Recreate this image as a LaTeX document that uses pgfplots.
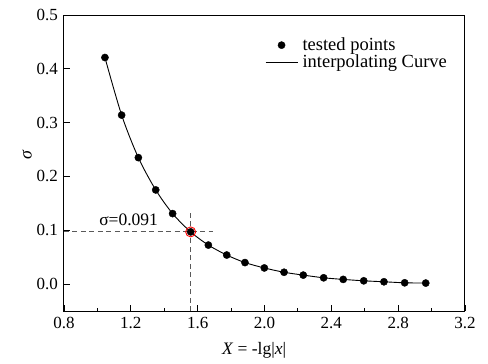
\documentclass[border=0pt]{standalone}
\usepackage{pgfplots}
\pgfplotsset{compat=1.18}
\usepackage{pgfplotstable}
\usepackage{fontspec}
\setmainfont{Liberation Serif}
\pgfplotstableread{
x y
1.045 0.421
1.145 0.314
1.245 0.235
1.349 0.175
1.450 0.131
1.558 0.097
1.664 0.0725
1.774 0.054
1.883 0.040
1.999 0.030
2.117 0.022
2.232 0.0167
2.354 0.0117
2.471 0.0087
2.594 0.0061
2.715 0.0043
2.839 0.0024
2.965 0.0019
}\sigmadata
\begin{document}
\fontsize{17.5}{20}\selectfont
\begin{tikzpicture}
\begin{axis}[
  name=ax,
  scale only axis, width=401pt, height=296pt,
  xmin=0.8, xmax=3.2, ymin=-0.05, ymax=0.5,
  xtick={0.8,1.2,1.6,2.0,2.4,2.8,3.2},
  minor xtick={1.0,1.4,1.8,2.2,2.6,3.0},
  ytick={0,0.1,0.2,0.3,0.4,0.5},
  tick pos=left, tick align=inside,
  major tick length=6pt, minor tick length=3.5pt,
  every tick/.style={black, line width=0.9pt},
  axis line style={line width=1pt},
  /pgf/number format/assume math mode=true,
  xticklabel style={/pgf/number format/.cd, fixed, fixed zerofill, precision=1},
  yticklabel style={/pgf/number format/.cd, fixed, fixed zerofill, precision=1},
  every tick label/.append style={font=\fontsize{17}{20}\selectfont},
  xlabel={\textit{X} = -lg|\textit{x}|},
  xlabel style={at={(axis description cs:0.474,-0.132)}, anchor=center, font=\fontsize{17.5}{20}\selectfont},
  ylabel={\itshape σ},
  ylabel style={at={(axis description cs:-0.092,0.527)}, anchor=center, font=\fontsize{18}{20}\selectfont},
  legend cell align=left,
  legend style={draw=none, fill=none, at={(axis description cs:0.501,0.922)}, anchor=north west,
    inner sep=0pt, row sep=0pt, column sep=4.5pt, font=\fontsize{18.5}{20}\selectfont,
    nodes={inner sep=0pt, text height=12.5pt, text depth=4.2pt}},
]
\addplot[only marks, mark=*, mark size=3.6pt, black,
  legend image code/.code={\fill[black] (16pt,1.5pt) circle (3.6pt);}] table[x=x,y=y] {\sigmadata};
\addlegendentry{tested points}
\addplot[smooth, black, line width=0.9pt, mark=none,
  legend image code/.code={\draw[black, line width=0.9pt] (0pt,1.2pt) -- (32pt,1.2pt);}] table[x=x,y=y] {\sigmadata};
\addlegendentry{interpolating Curve}
\addplot[forget plot, only marks, mark=o, mark size=5pt, red, line width=0.9pt] coordinates {(1.558,0.097)};
\addplot[forget plot, gray!70!black, line width=0.9pt, dash pattern=on 5pt off 3.5pt] coordinates {(0.8,0.097) (1.69,0.097)};
\addplot[forget plot, gray!70!black, line width=0.9pt, dash pattern=on 5pt off 3.5pt] coordinates {(1.558,-0.05) (1.558,0.134)};
\node[anchor=base west, font=\fontsize{17.5}{20}\selectfont] at (axis cs:0.975,0.108) {σ=0.091};
\end{axis}
\path (ax.south west) ++(-64pt,-46pt) rectangle ++(488pt,357pt);
\end{tikzpicture}
\end{document}
